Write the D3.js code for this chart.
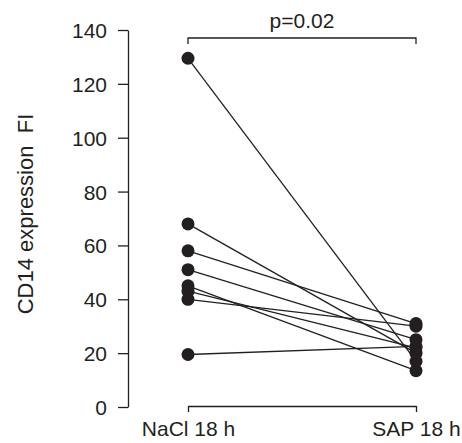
<!DOCTYPE html>
<html>
<head>
<meta charset="utf-8">
<script src="https://cdn.jsdelivr.net/npm/d3@7"></script>
<style>
  body { margin: 0; background: #fff; }
  svg text { font-family: "Liberation Sans", Arial, Helvetica, sans-serif; fill: #231f20; }
</style>
</head>
<body>
<svg id="chart" width="462" height="443"></svg>
<script>
// groups on the x axis
var categories = ["NaCl 18 h", "SAP 18 h"];
// paired values, one entry per subject
var naclValues = [129.5, 68, 58, 51, 45, 43, 40, 19.5];
var sapValues  = [17, 20, 31, 25, 13.5, 22, 30, 22.5];
var yTicks = [0, 20, 40, 60, 80, 100, 120, 140];
var pLabel = "p=0.02";
var yTitle = "CD14 expression\u00a0\u00a0FI";

var ink = "#231f20";
var svg = d3.select("#chart");

var x = d3.scalePoint().domain(categories).range([188, 416]);
var y = d3.scaleLinear().domain([0, 140]).range([407, 30]);

var pairs = naclValues.map(function(v, i) {
  return [v, sapValues[i]];
});

// y axis
var yAxis = svg.append("g")
  .attr("transform", "translate(128,0)")
  .call(d3.axisLeft(y).tickValues(yTicks).tickSize(10).tickPadding(11).tickSizeOuter(0));
yAxis.select(".domain").attr("stroke", ink).attr("stroke-width", 1.3);
yAxis.selectAll(".tick line").attr("stroke", ink).attr("stroke-width", 1.3);
yAxis.selectAll(".tick text")
  .attr("font-size", 21)
  .attr("font-family", null)
  .attr("fill", ink)
  .attr("dy", "0.36em");

// x axis: bracket with ticks hanging down
var xAxis = svg.append("g")
  .attr("transform", "translate(0," + (y(0) - 1) + ")")
  .call(d3.axisBottom(x).tickSize(6).tickSizeOuter(0).tickPadding(9));
xAxis.select(".domain").attr("stroke", ink).attr("stroke-width", 1.3);
xAxis.selectAll(".tick line").attr("stroke", ink).attr("stroke-width", 1.3);
xAxis.selectAll(".tick text")
  .attr("font-size", 21)
  .attr("font-family", null)
  .attr("fill", ink)
  .attr("dy", "0.72em");

// y title
svg.append("text")
  .attr("transform", "translate(33,214) rotate(-90)")
  .attr("text-anchor", "middle")
  .attr("font-size", 22)
  .style("white-space", "pre")
  .text(yTitle);

// significance bracket
var yb = 38;
svg.append("path")
  .attr("fill", "none")
  .attr("stroke", ink)
  .attr("stroke-width", 1.3)
  .attr("d", "M" + x(categories[0]) + "," + (yb + 6) + "V" + yb +
             "H" + x(categories[1]) + "V" + (yb + 6));
svg.append("text")
  .attr("x", (x(categories[0]) + x(categories[1])) / 2)
  .attr("y", 28)
  .attr("text-anchor", "middle")
  .attr("font-size", 21)
  .text(pLabel);

// connecting lines
svg.selectAll("line.pair")
  .data(pairs)
  .enter()
  .append("line")
  .classed("pair", true)
  .attr("x1", x(categories[0]))
  .attr("y1", function(d) { return y(d[0]); })
  .attr("x2", x(categories[1]))
  .attr("y2", function(d) { return y(d[1]); })
  .attr("stroke", ink)
  .attr("stroke-width", 1.3);

// points
svg.selectAll("circle.nacl")
  .data(naclValues)
  .enter()
  .append("circle")
  .classed("nacl", true)
  .attr("cx", x(categories[0]))
  .attr("cy", function(d) { return y(d); })
  .attr("r", 6.5)
  .attr("fill", ink);

svg.selectAll("circle.sap")
  .data(sapValues)
  .enter()
  .append("circle")
  .classed("sap", true)
  .attr("cx", x(categories[1]))
  .attr("cy", function(d) { return y(d); })
  .attr("r", 6.5)
  .attr("fill", ink);
</script>
</body>
</html>
